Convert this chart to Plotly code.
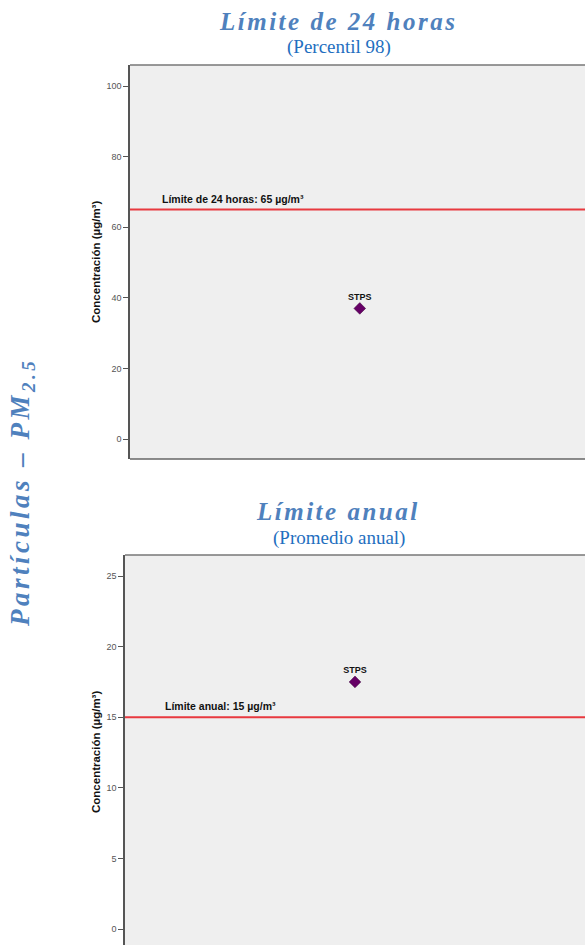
import plotly.graph_objects as go

W, H = 585, 945

# Data
station = ["STPS"]
p98_values = [37]
annual_values = [17.5]
limit_24h = 65
limit_annual = 15
ticks_top = [0, 20, 40, 60, 80, 100]
ticks_bottom = [0, 5, 10, 15, 20, 25]

title_blue = "#4f81bd"
sub_blue = "#1f6fc0"
bg = "#efefef"
axis_col = "#555555"
red = "#e8393f"
purple = "#660066"

def px(xp):
    return xp / W

def py(yp):
    return 1 - yp / H

fig = go.Figure()

for vals, xa, ya in [(p98_values, "x", "y"), (annual_values, "x2", "y2")]:
    fig.add_trace(go.Scatter(x=station, y=vals, mode="markers+text",
                             text=["<b>%s</b>" % s for s in station], textposition="top center",
                             textfont=dict(family="Liberation Sans, Arial", size=9, color="#111"),
                             marker=dict(symbol="diamond", size=9, color=purple,
                                         line=dict(color="#3a003a", width=0.5)),
                             xaxis=xa, yaxis=ya, showlegend=False, cliponaxis=False,
                             hoverinfo="skip"))

tickfont = dict(family="Liberation Sans, Arial", size=9, color="#555")

fig.update_layout(
    width=W, height=H,
    margin=dict(l=0, r=0, t=0, b=0),
    paper_bgcolor="white", plot_bgcolor=bg,
    xaxis=dict(domain=[px(130), 1], range=[-0.505, 0.495], visible=False,
               anchor="y"),
    yaxis=dict(domain=[py(459), py(65)], range=[-5.65, 105.95],
               tickvals=ticks_top, ticks="outside", ticklen=5, tickcolor=axis_col,
               showline=True, linecolor=axis_col, linewidth=1.5, showgrid=False,
               zeroline=False, tickfont=tickfont, anchor="x"),
    xaxis2=dict(domain=[px(125), 1], range=[-0.5, 0.5], visible=False,
                anchor="y2"),
    yaxis2=dict(domain=[0, py(555)], range=[-1.13, 26.49],
                tickvals=ticks_bottom, ticks="outside", ticklen=5, tickcolor=axis_col,
                showline=True, linecolor=axis_col, linewidth=1.5, showgrid=False,
                zeroline=False, tickfont=tickfont, anchor="x2"),
)

# borders
fig.add_shape(type="line", xref="x domain", yref="y domain", x0=0, x1=1, y0=1, y1=1,
              line=dict(color="#777", width=1.5))
fig.add_shape(type="line", xref="x domain", yref="y domain", x0=0, x1=1, y0=0, y1=0,
              line=dict(color="#666", width=1.5))
fig.add_shape(type="line", xref="x2 domain", yref="y2 domain", x0=0, x1=1, y0=1, y1=1,
              line=dict(color="#777", width=1.5))

# limit lines
fig.add_shape(type="line", xref="x domain", yref="y", x0=0, x1=1, y0=limit_24h, y1=limit_24h,
              line=dict(color=red, width=2))
fig.add_shape(type="line", xref="x2 domain", yref="y2", x0=0, x1=1, y0=limit_annual, y1=limit_annual,
              line=dict(color=red, width=2))

lab = dict(family="Liberation Sans, Arial", size=10.5, color="#111")
fig.add_annotation(xref="paper", yref="y", x=px(160), y=limit_24h, yshift=3,
                   xanchor="left", yanchor="bottom", showarrow=False,
                   text=f"<b>Límite de 24 horas: {limit_24h} µg/m³</b>", font=lab)
fig.add_annotation(xref="paper", yref="y2", x=px(163), y=limit_annual, yshift=3,
                   xanchor="left", yanchor="bottom", showarrow=False,
                   text=f"<b>Límite anual: {limit_annual} µg/m³</b>", font=lab)

# axis titles
ylab = dict(family="Liberation Sans, Arial", size=11.5, color="#111")
for yc in (262, 752):
    fig.add_annotation(xref="paper", yref="paper", x=px(96), y=py(yc), textangle=-90,
                       xanchor="center", yanchor="middle",
                       showarrow=False, text="<b>Concentración (µg/m³)</b>", font=ylab)

# titles
tfont = dict(family="Liberation Serif, Times New Roman", size=25, color=title_blue)
sfont = dict(family="Liberation Serif, Times New Roman", size=19, color=sub_blue)
def center(x, y, text, font, angle=0):
    fig.add_annotation(xref="paper", yref="paper", x=px(x), y=py(y), showarrow=False,
                       xanchor="center", yanchor="middle", textangle=angle,
                       text=text, font=font)

center(338, 21, '<span style="letter-spacing:2.5px"><b><i>Límite de 24 horas</i></b></span>', tfont)
center(339, 47, "(Percentil 98)", sfont)
center(338, 511, '<span style="letter-spacing:2.5px"><b><i>Límite anual</i></b></span>', tfont)
center(339, 538, "(Promedio anual)", sfont)
center(22, 493, '<span style="letter-spacing:3.5px"><b><i>Partículas – PM<sub>2.5</sub></i></b></span>',
       dict(family="Liberation Serif, Times New Roman", size=27, color=title_blue), angle=-90)

fig.write_html("out.html", config={"displayModeBar": False},
               post_script="document.body.style.margin='0';document.body.style.overflow='hidden';")
